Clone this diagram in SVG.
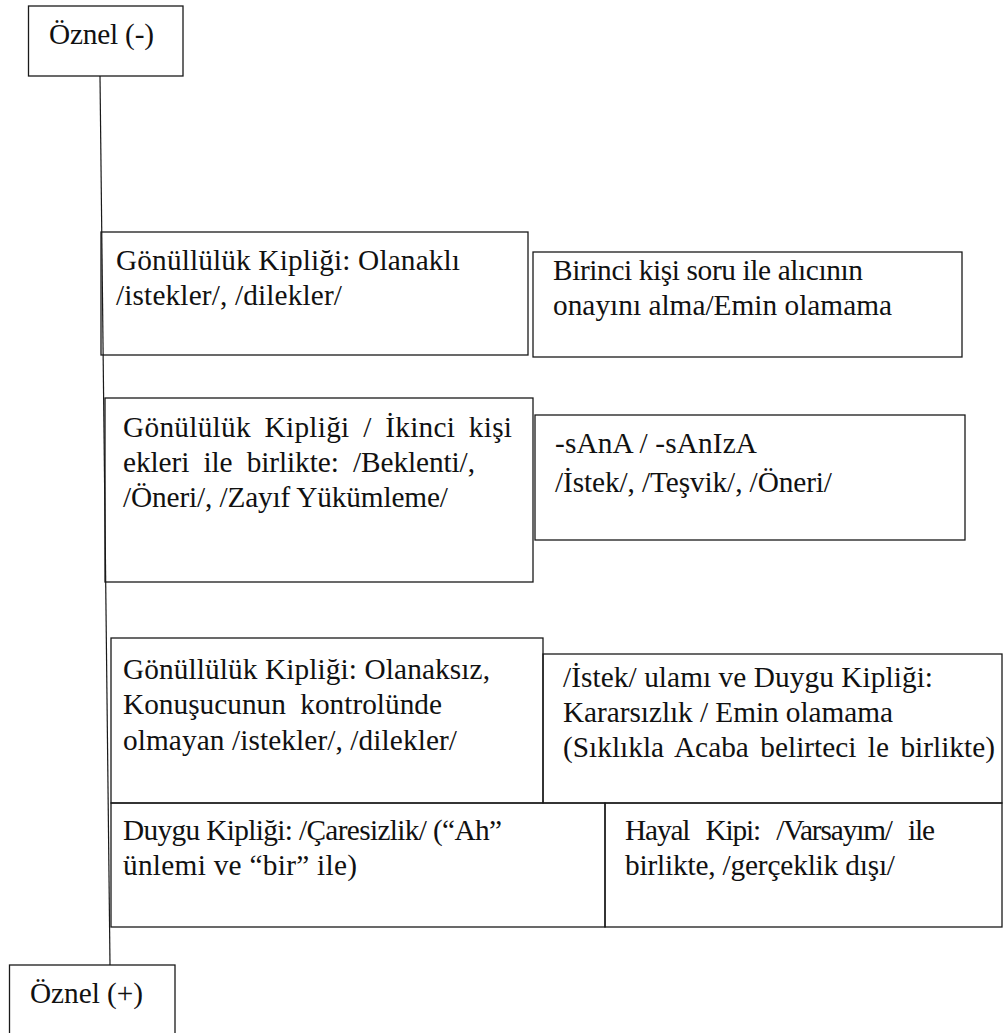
<svg xmlns="http://www.w3.org/2000/svg" width="1008" height="1033" viewBox="0 0 1008 1033">
  <style>
    .box { fill: none; stroke: #1a1a1a; stroke-width: 1.3; }
    .link { fill: none; stroke: #1a1a1a; stroke-width: 1.2; }
    .lbl { font-family: 'Liberation Serif', 'Times New Roman', serif; font-size: 29.3px; fill: #111; }
  </style>
  <rect width="1008" height="1033" fill="#ffffff"/>

  <!-- spine linking the two ends of the scale -->
  <g id="connectors">
    <line class="link" x1="100" y1="76" x2="110" y2="965"/>
  </g>

  <g class="lbl">
    <g id="ozneel-minus">
      <rect class="box" x="28.5" y="6" width="154.5" height="70"/>
      <text x="49" y="44" textLength="105">Öznel (-)</text>
    </g>

    <g id="olanakli">
      <rect class="box" x="101" y="232" width="427" height="123"/>
      <text x="116" y="270" textLength="344">Gönüllülük Kipliği: Olanaklı</text>
      <text x="116" y="305" textLength="226">/istekler/, /dilekler/</text>
    </g>

    <g id="birinci-kisi">
      <rect class="box" x="533" y="252" width="429" height="105"/>
      <text x="553" y="280" textLength="310">Birinci kişi soru ile alıcının</text>
      <text x="553" y="315" textLength="339">onayını alma/Emin olamama</text>
    </g>

    <g id="ikinci-kisi">
      <rect class="box" x="105" y="398" width="428" height="184"/>
      <text x="123" y="437" word-spacing="6" textLength="389">Gönülülük Kipliği / İkinci kişi</text>
      <text x="123" y="472" word-spacing="7" textLength="352">ekleri ile birlikte: /Beklenti/,</text>
      <text x="123" y="507" textLength="325">/Öneri/, /Zayıf Yükümleme/</text>
    </g>

    <g id="sana">
      <rect class="box" x="535" y="415" width="430" height="125"/>
      <text x="555" y="453" textLength="202">-sAnA / -sAnIzA</text>
      <text x="555" y="492" textLength="277">/İstek/, /Teşvik/, /Öneri/</text>
    </g>

    <g id="olanaksiz">
      <rect class="box" x="111" y="638" width="432" height="165"/>
      <text x="123" y="679" textLength="367">Gönüllülük Kipliği: Olanaksız,</text>
      <text x="123" y="714" word-spacing="7" textLength="319">Konuşucunun kontrolünde</text>
      <text x="123" y="750" textLength="334">olmayan /istekler/, /dilekler/</text>
    </g>

    <g id="istek-duygu">
      <rect class="box" x="543" y="654" width="459" height="149"/>
      <text x="563" y="687" textLength="370">/İstek/ ulamı ve Duygu Kipliği:</text>
      <text x="563" y="722" textLength="330">Kararsızlık / Emin olamama</text>
      <text x="563" y="757" word-spacing="4" textLength="432">(Sıklıkla Acaba belirteci le birlikte)</text>
    </g>

    <g id="caresizlik">
      <rect class="box" x="111" y="803" width="494" height="124"/>
      <text x="123" y="840" textLength="379">Duygu Kipliği: /Çaresizlik/ (“Ah”</text>
      <text x="123" y="875" textLength="234">ünlemi ve “bir” ile)</text>
    </g>

    <g id="hayal-kipi">
      <rect class="box" x="605" y="803" width="397" height="124"/>
      <text x="625" y="840" word-spacing="10" textLength="310">Hayal Kipi: /Varsayım/ ile</text>
      <text x="625" y="875" textLength="270">birlikte, /gerçeklik dışı/</text>
    </g>

    <g id="oznel-plus">
      <rect class="box" x="9.5" y="965" width="165.5" height="80"/>
      <text x="30" y="1003" textLength="113">Öznel (+)</text>
    </g>
  </g>
</svg>
